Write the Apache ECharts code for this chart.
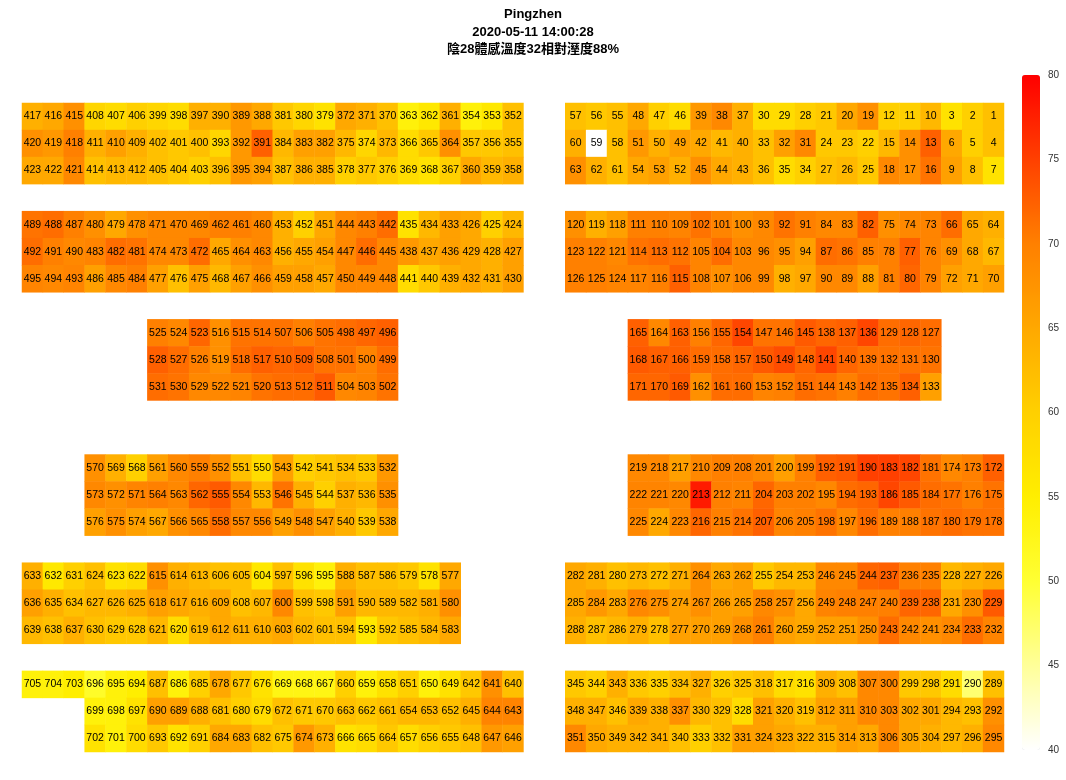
<!DOCTYPE html>
<html>
<head>
<meta charset="utf-8">
<script src="https://cdn.jsdelivr.net/npm/echarts@6/dist/echarts.min.js"></script>
<style>
html, body {margin: 0; padding: 0; background: #fff;}
#seatMap {width: 1066px; height: 780px;}
</style>
</head>
<body>
<div id="seatMap"></div>
<script>
var _ = null;

// 標題
var titleLines = ['Pingzhen', '2020-05-11 14:00:28', '陰28體感溫度32相對溼度88%'];

// 座位編號, 每列 47 格, _ 為空位
var seatRows = [
	[417,416,415,408,407,406,399,398,397,390,389,388,381,380,379,372,371,370,363,362,361,354,353,352,_,_,57,56,55,48,47,46,39,38,37,30,29,28,21,20,19,12,11,10,3,2,1],
	[420,419,418,411,410,409,402,401,400,393,392,391,384,383,382,375,374,373,366,365,364,357,356,355,_,_,60,59,58,51,50,49,42,41,40,33,32,31,24,23,22,15,14,13,6,5,4],
	[423,422,421,414,413,412,405,404,403,396,395,394,387,386,385,378,377,376,369,368,367,360,359,358,_,_,63,62,61,54,53,52,45,44,43,36,35,34,27,26,25,18,17,16,9,8,7],
	[],
	[489,488,487,480,479,478,471,470,469,462,461,460,453,452,451,444,443,442,435,434,433,426,425,424,_,_,120,119,118,111,110,109,102,101,100,93,92,91,84,83,82,75,74,73,66,65,64],
	[492,491,490,483,482,481,474,473,472,465,464,463,456,455,454,447,446,445,438,437,436,429,428,427,_,_,123,122,121,114,113,112,105,104,103,96,95,94,87,86,85,78,77,76,69,68,67],
	[495,494,493,486,485,484,477,476,475,468,467,466,459,458,457,450,449,448,441,440,439,432,431,430,_,_,126,125,124,117,116,115,108,107,106,99,98,97,90,89,88,81,80,79,72,71,70],
	[],
	[_,_,_,_,_,_,525,524,523,516,515,514,507,506,505,498,497,496,_,_,_,_,_,_,_,_,_,_,_,165,164,163,156,155,154,147,146,145,138,137,136,129,128,127,_,_,_],
	[_,_,_,_,_,_,528,527,526,519,518,517,510,509,508,501,500,499,_,_,_,_,_,_,_,_,_,_,_,168,167,166,159,158,157,150,149,148,141,140,139,132,131,130,_,_,_],
	[_,_,_,_,_,_,531,530,529,522,521,520,513,512,511,504,503,502,_,_,_,_,_,_,_,_,_,_,_,171,170,169,162,161,160,153,152,151,144,143,142,135,134,133,_,_,_],
	[],
	[],
	[_,_,_,570,569,568,561,560,559,552,551,550,543,542,541,534,533,532,_,_,_,_,_,_,_,_,_,_,_,219,218,217,210,209,208,201,200,199,192,191,190,183,182,181,174,173,172],
	[_,_,_,573,572,571,564,563,562,555,554,553,546,545,544,537,536,535,_,_,_,_,_,_,_,_,_,_,_,222,221,220,213,212,211,204,203,202,195,194,193,186,185,184,177,176,175],
	[_,_,_,576,575,574,567,566,565,558,557,556,549,548,547,540,539,538,_,_,_,_,_,_,_,_,_,_,_,225,224,223,216,215,214,207,206,205,198,197,196,189,188,187,180,179,178],
	[],
	[633,632,631,624,623,622,615,614,613,606,605,604,597,596,595,588,587,586,579,578,577,_,_,_,_,_,282,281,280,273,272,271,264,263,262,255,254,253,246,245,244,237,236,235,228,227,226],
	[636,635,634,627,626,625,618,617,616,609,608,607,600,599,598,591,590,589,582,581,580,_,_,_,_,_,285,284,283,276,275,274,267,266,265,258,257,256,249,248,247,240,239,238,231,230,229],
	[639,638,637,630,629,628,621,620,619,612,611,610,603,602,601,594,593,592,585,584,583,_,_,_,_,_,288,287,286,279,278,277,270,269,268,261,260,259,252,251,250,243,242,241,234,233,232],
	[],
	[705,704,703,696,695,694,687,686,685,678,677,676,669,668,667,660,659,658,651,650,649,642,641,640,_,_,345,344,343,336,335,334,327,326,325,318,317,316,309,308,307,300,299,298,291,290,289],
	[_,_,_,699,698,697,690,689,688,681,680,679,672,671,670,663,662,661,654,653,652,645,644,643,_,_,348,347,346,339,338,337,330,329,328,321,320,319,312,311,310,303,302,301,294,293,292],
	[_,_,_,702,701,700,693,692,691,684,683,682,675,674,673,666,665,664,657,656,655,648,647,646,_,_,351,350,349,342,341,340,333,332,331,324,323,322,315,314,313,306,305,304,297,296,295]
];

// 各座位溫度, 與 seatRows 同位置
var tempRows = [
	[64,65,68,59,58,60,59,58,64,64,67,65,61,59,57,65,64,62,54,56,64,54,56,62,_,_,62,61,62,65,60,58,67,69,64,58,58,60,61,65,68,60,60,63,57,60,62],
	[68,67,70,64,66,64,62,61,62,59,67,72.5,63,66,66,63,59,63,58,61,68,61,61,62,_,_,64,40,62,67,64,66,65,63,64,62,66,69,61,61,60,63,68,72.5,65,60,62],
	[65,65,69,62,63,63,62,61,60,62,67,66,62,64,64,60,61,60,58,57,60,65,63,64,_,_,68,64,62,65,66,64,68,65,64,62,58,60,62,63,61,69,68,71,66,62,57],
	[],
	[71,71.5,70,68,65,68,69,69,69,70,70,69,64,60,65,69,70,71.5,57,63,66,65,60,63,_,_,68,64,66,70,70,69.5,71,69.5,68,69,71,70,69,69,72.5,68,69,69.5,71.5,65,64],
	[71.5,70,69,69.5,71.5,71,69,69,71.5,65,68,69,64,65,66,69,71.5,69,67,65,66,65,64,66,_,_,70,70,69,71,71.5,71,69.5,71.5,69,69,68,66,71.5,71,70,70,72.5,69.5,68,65,63],
	[69.5,69,69.5,66,69,70,66,62,66,63,66,68,66,66,65,69,69,69,58,61,64,65,64,66,_,_,70,70,69.5,69.5,70,72.5,69.5,68,69,69,64,65,69,69,66,70,72,69.5,66,65,66],
	[],
	[_,_,_,_,_,_,70,69,72,68,71,71,71,70,71,71.5,72,72.5,_,_,_,_,_,_,_,_,_,_,_,72.5,69,72.5,70,72,74.5,71,71,73,72,72.5,74.5,71.5,72,71.5,_,_,_],
	[_,_,_,_,_,_,72.5,71.5,70,68,71.5,72.5,72,72.5,71,71,69.5,71.5,_,_,_,_,_,_,_,_,_,_,_,73,72.5,72.5,71.5,71.5,72,73,74,72,74.5,72,71,71,71,71,_,_,_],
	[_,_,_,_,_,_,71.5,71,69,69,69.5,71,71.5,71.5,73,69,69.5,71,_,_,_,_,_,_,_,_,_,_,_,72,72,73,68,71.5,71.5,69.5,70,71.5,71,70,71.5,71,72.5,66,_,_,_],
	[],
	[],
	[_,_,_,68,64,60,66,69,70,68,62,58,66,60,61,62,61,67,_,_,_,_,_,_,_,_,_,_,_,69,69,66,69,70,70,69,66,70,72.5,73,75,75,74.5,71,69,70,72.5],
	[_,_,_,69,68,69.5,70,69,72,73,69,63,71,64,60,64,63,68,_,_,_,_,_,_,_,_,_,_,_,69.5,69.5,69,78,70,69.5,72,70,70,69,71.5,72,74.5,73,71.5,71,70,71],
	[_,_,_,66,68,66,65,68,69,71.5,69,69,66,68,66,64,61,65,_,_,_,_,_,_,_,_,_,_,_,69,65,69,72,70,71,72.5,69.5,70,71,69,71.5,70,70,71,71.5,71,71],
	[],
	[64,56,60,62,57,58,68,64,63,62,62,56,62,57,54,64,62,62,61,57,65,_,_,_,_,_,65,64,62,63,62,64,68,65,66,61,63,63,69,69,72,72.5,70,70,63,64,65],
	[66,64,62,63,63,64,66,65,64,65,62,63,69,62,61,66,63,63,63,64,68,_,_,_,_,_,65,67,65,69,68,66,68,66,66,69,68,65,69.5,70,70,70,72,72,65,68,73],
	[63,62,64,62,61,61,63,58,63,65,64,64,65,63,62,62,56,61,62,63,65,_,_,_,_,_,64,62,63,64,62,66,66,66,68,70,66,65,66,66,68,71.5,69,68,69,71.5,69.5],
	[],
	[54,54,55,51,54,55,62,54,60,65,61,57,53,53,53,60,54,57,60,54,57,61,68,62,_,_,61,60,64,61,60,62,64,60,61,62,58,57,64,62,69,69,61,61,58,47,62],
	[_,_,_,54,54,57,66,66,64,62,60,58,62,61,61,62,61,62,63,63,62,64,69.5,69.5,_,_,64,64,62,65,64,68,63,62,58,66,64,62,66,66,69,69,65,65,63,62,68],
	[_,_,_,57,54,58,61,57,60,65,65,62,61,67,64,57,58,61,58,60,61,62,67,66,_,_,69,65,64,64,64,62,60,62,66,66,65,64,64,66,65,69,65,64,63,64,69]
];

// 色階 40 ~ 80
var scaleMin = 40;
var scaleMax = 80;
var scaleColors = ['#ffffff', '#ffff99', '#ffff33', '#ffee00', '#ffd000', '#ffa800', '#ff8000', '#ff4000', '#ff0000'];

var colCount = 47;

(function () {
	var chart = echarts.init(document.getElementById('seatMap'));

	var xCats = [], yCats = [];
	for (var c = 0; c < colCount; c++) xCats.push(c);
	for (var r = 0; r < seatRows.length; r++) yCats.push(r);

	// 組出熱圖資料 [col, row, temp, seat]
	var cells = [];
	for (var r = 0; r < seatRows.length; r++) {
		for (var c = 0; c < seatRows[r].length; c++) {
			var seat = seatRows[r][c];
			if (seat == null) continue;
			cells.push([c, r, tempRows[r][c], seat]);
		}
	}

	var font = '"Liberation Sans", Arial, "Noto Sans CJK TC", sans-serif';

	var option = {
		animation: false,
		title: {
			text: titleLines.join('\n'),
			left: 'center',
			top: 1,
			textStyle: {
				color: '#000',
				fontSize: 13,
				fontWeight: 'bold',
				lineHeight: 17.5,
				fontFamily: font
			}
		},
		grid: [
			{left: 22, top: 103, width: 982, height: 649},
			{left: 1022, top: 75, width: 18, height: 675}//色階刻度
		],
		xAxis: [
			{type: 'category', data: xCats, show: false, gridIndex: 0},
			{type: 'value', show: false, gridIndex: 1}
		],
		yAxis: [
			{type: 'category', data: yCats, inverse: true, show: false, gridIndex: 0},
			{
				type: 'value', gridIndex: 1, position: 'right',
				min: scaleMin, max: scaleMax, interval: 5,
				axisLine: {show: false},
				axisTick: {show: false},
				splitLine: {show: false},
				axisLabel: {color: '#333', fontSize: 10, margin: 8, fontFamily: font}
			}
		],
		visualMap: {
			type: 'continuous',
			seriesIndex: 0,
			dimension: 2,
			min: scaleMin,
			max: scaleMax,
			calculable: false,
			left: 1022,
			top: 75,
			padding: 0,
			itemWidth: 18,
			itemHeight: 675,
			text: null,
			showLabel: false,
			inRange: {color: scaleColors}
		},
		series: [{
			type: 'heatmap',
			data: cells,
			xAxisIndex: 0,
			yAxisIndex: 0,
			label: {
				show: true,
				color: '#000',
				fontSize: 10.5,
				fontFamily: font,
				formatter: function (p) {
					return p.data[3];
				}
			},
			emphasis: {disabled: true}
		}]
	};

	chart.setOption(option);
})();
</script>
</body>
</html>
